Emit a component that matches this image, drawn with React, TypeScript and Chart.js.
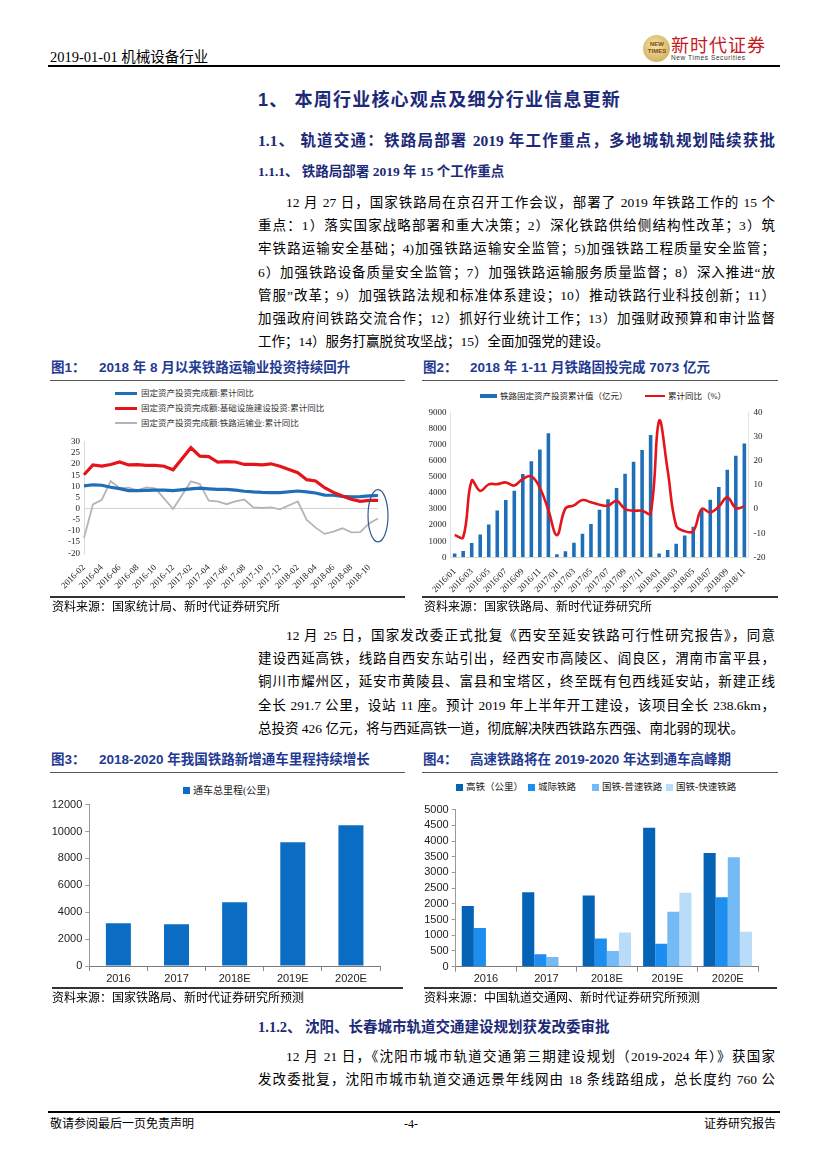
import React, { useEffect, useRef } from "react";
import { Chart, registerables } from "chart.js";
Chart.register(...registerables);

const SERIF = '"Liberation Serif", "Noto Sans CJK SC", serif';
const SANS = '"Liberation Sans", "Noto Sans CJK SC", sans-serif';
const HEAD_BLUE = "#1c2a78";
const FIG_BLUE = "#1f3a93";

// ---------- Figure 1 data ----------
const fig1Months = [
  "2016-02","2016-03","2016-04","2016-05","2016-06","2016-07","2016-08","2016-09","2016-10","2016-11","2016-12",
  "2017-01","2017-02","2017-03","2017-04","2017-05","2017-06","2017-07","2017-08","2017-09","2017-10","2017-11","2017-12",
  "2018-01","2018-02","2018-03","2018-04","2018-05","2018-06","2018-07","2018-08","2018-09","2018-10","2018-11",
];
const fig1Fai = [10.2,10.7,10.5,9.6,9.0,8.1,8.1,8.2,8.3,8.3,8.1, null,8.9,9.2,8.9,8.6,8.6,8.3,7.8,7.5,7.3,7.2,7.2, null,7.9,7.5,7.0,6.1,6.0,5.5,5.3,5.4,5.7,5.9];
const fig1Infra = [15.2,19.6,19.1,19.8,20.9,19.6,19.7,19.4,19.4,19.0,17.4, null,27.3,23.5,23.3,20.9,21.1,20.9,19.8,19.8,19.6,20.1,19.0, null,16.1,13.0,12.4,9.4,7.3,5.7,4.2,3.3,3.7,3.7];
const fig1Rail = [-13.2,1.9,4.0,12.3,9.2,9.4,8.2,9.5,9.1,4.5,-0.2, null,12.2,11.0,3.6,3.3,2.0,3.3,4.1,0.6,0.3,0.6,-0.3, null,3.2,-5.0,-8.5,-11.3,-10.3,-8.8,-10.6,-10.5,-6.6,-4.4];
const fig1Names = ["固定资产投资完成额:累计同比", "固定资产投资完成额:基础设施建设投资:累计同比", "固定资产投资完成额:铁路运输业:累计同比"];
const fig1Highlight = { index: 33, centerValue: -3.2, halfRange: 11.7, halfWidthSteps: 1.12 };

// ---------- Figure 2 data ----------
const fig2Months = [
  "2016/01","2016/02","2016/03","2016/04","2016/05","2016/06","2016/07","2016/08","2016/09","2016/10","2016/11","2016/12",
  "2017/01","2017/02","2017/03","2017/04","2017/05","2017/06","2017/07","2017/08","2017/09","2017/10","2017/11","2017/12",
  "2018/01","2018/02","2018/03","2018/04","2018/05","2018/06","2018/07","2018/08","2018/09","2018/10","2018/11",
];
const fig2Invest = [230,390,890,1410,2030,2900,3560,4140,5170,5960,6690,7700, 190,370,910,1470,2070,2960,3600,4300,5190,5940,6660,7590, 240,460,840,1350,1900,2980,3580,4370,5440,6310,7073];
const fig2Yoy = [-10.8,-11.7,11.7,7.5,10.2,10.3,11.0,9.7,12.5,13.5,8.8,-0.5, -10.8,0.2,1.5,3.7,2.8,1.8,1.4,3.4,0.0,-0.7,-0.7,-1.8, 36.5,16.0,-6.9,-9.2,-9.2,0.0,-1.4,1.0,4.8,0.4,1.0];
const fig2Names = ["铁路固定资产投资累计值（亿元）", "累计同比（%）"];

// ---------- Figure 3 data ----------
const fig3Years = ["2016", "2017", "2018E", "2019E", "2020E"];
const fig3Mileage = [3180, 3100, 4740, 9210, 10460];
const fig3Name = "通车总里程(公里)";

// ---------- Figure 4 data ----------
const fig4Years = ["2016", "2017", "2018E", "2019E", "2020E"];
const fig4HighSpeed = [1930, 2370, 2270, 4420, 3620];
const fig4Intercity = [1230, 400, 900, 730, 2210];
const fig4Normal = [0, 310, 500, 1750, 3480];
const fig4Fast = [0, 0, 1090, 2350, 1110];
const fig4Names = ["高铁（公里）", "城际铁路", "国铁-普速铁路", "国铁-快速铁路"];
const fig4Colors = ["#0563b5", "#1c8eef", "#74bbf5", "#b9dcf9"];

const BLUE = "#1f6fb8";
const RED = "#e5141b";
const GRAY = "#b5b5b5";

const plain = (v: any) => String(v);

function ChartBox({ left, top, width, height, config }: any) {
  const ref = useRef<HTMLCanvasElement | null>(null);
  useEffect(() => {
    if (!ref.current) return;
    const chart = new Chart(ref.current, config);
    return () => chart.destroy();
  }, []);
  return (
    <div style={{ position: "absolute", left, top, width, height }}>
      <canvas ref={ref} />
    </div>
  );
}

const ellipsePlugin = {
  id: "fig1Ellipse",
  afterDatasetsDraw(chart: any) {
    const xs = chart.scales.x, ys = chart.scales.y;
    const cx = xs.getPixelForValue(fig1Highlight.index);
    const step = xs.getPixelForValue(1) - xs.getPixelForValue(0);
    const cy = ys.getPixelForValue(fig1Highlight.centerValue);
    const ry = Math.abs(ys.getPixelForValue(fig1Highlight.centerValue + fig1Highlight.halfRange) - cy);
    const rx = step * fig1Highlight.halfWidthSteps;
    const ctx = chart.ctx;
    ctx.save();
    ctx.beginPath();
    ctx.ellipse(cx, cy, rx, ry, 0, 0, Math.PI * 2);
    ctx.strokeStyle = "#2f5d8c";
    ctx.lineWidth = 1.2;
    ctx.stroke();
    ctx.restore();
  },
};

const tickSerif = { family: SERIF, size: 9 };
const tickSans = { family: SANS, size: 11 };

const fig1Config: any = {
  type: "line",
  data: {
    labels: fig1Months,
    datasets: [
      { label: fig1Names[1], data: fig1Infra, borderColor: RED, borderWidth: 3.2, pointRadius: 0, spanGaps: true, order: 1 },
      { label: fig1Names[0], data: fig1Fai, borderColor: BLUE, borderWidth: 3.2, pointRadius: 0, spanGaps: true, order: 2 },
      { label: fig1Names[2], data: fig1Rail, borderColor: GRAY, borderWidth: 1.8, pointRadius: 0, spanGaps: true, order: 3 },
    ],
  },
  options: {
    animation: false,
    responsive: true,
    maintainAspectRatio: false,
    plugins: { legend: { display: false }, tooltip: { enabled: false } },
    layout: { padding: { top: 11.7, right: 32, left: 0, bottom: 0 } },
    scales: {
      x: {
        grid: { display: false },
        border: { display: false },
        ticks: {
          autoSkip: false, minRotation: 45, maxRotation: 45, padding: 1,
          font: tickSerif, color: "#222",
          callback: (_v: any, i: number) => (i % 2 === 0 ? fig1Months[i] : ""),
        },
        afterFit: (s: any) => { s.height = 46.7; },
      },
      y: {
        min: -20, max: 30,
        ticks: { stepSize: 5, autoSkip: false, font: tickSerif, color: "#222", padding: 4, callback: plain },
        grid: { color: (c: any) => (c.tick && c.tick.value === 0 ? "#d4d4d4" : "rgba(0,0,0,0)"), drawTicks: false },
        border: { color: "#d9d9d9" },
        afterFit: (s: any) => { s.width = 34; },
      },
    },
  },
  plugins: [ellipsePlugin],
};

const fig2Config: any = {
  type: "bar",
  data: {
    labels: fig2Months,
    datasets: [
      { type: "line", label: fig2Names[1], data: fig2Yoy, yAxisID: "y1", borderColor: RED, borderWidth: 2.6, pointRadius: 0, tension: 0.4, order: 1 },
      { type: "bar", label: fig2Names[0], data: fig2Invest, yAxisID: "y", backgroundColor: BLUE, barPercentage: 0.42, categoryPercentage: 1, order: 2 },
    ],
  },
  options: {
    animation: false,
    responsive: true,
    maintainAspectRatio: false,
    plugins: { legend: { display: false }, tooltip: { enabled: false } },
    layout: { padding: { top: 9.7, right: 0, left: 0, bottom: 0 } },
    scales: {
      x: {
        offset: true,
        grid: { display: false },
        border: { color: "#d9d9d9" },
        ticks: {
          autoSkip: false, minRotation: 45, maxRotation: 45, padding: 1,
          font: tickSerif, color: "#222",
          callback: (_v: any, i: number) => (i % 2 === 0 ? fig2Months[i] : ""),
        },
        afterFit: (s: any) => { s.height = 42.7; },
      },
      y: {
        position: "left", min: 0, max: 9000,
        ticks: { stepSize: 1000, autoSkip: false, font: tickSerif, color: "#222", padding: 4, callback: plain },
        grid: { display: false, drawTicks: false },
        border: { color: "#e3e3e3" },
        afterFit: (s: any) => { s.width = 30.4; },
      },
      y1: {
        position: "right", min: -20, max: 40,
        ticks: { stepSize: 10, autoSkip: false, font: tickSerif, color: "#222", padding: 5, callback: plain },
        grid: { display: false, drawTicks: false },
        border: { color: "#e3e3e3" },
        afterFit: (s: any) => { s.width = 31.4; },
      },
    },
  },
};

const fig3Config: any = {
  type: "bar",
  data: {
    labels: fig3Years,
    datasets: [{ label: fig3Name, data: fig3Mileage, backgroundColor: "#0a6cc2", barPercentage: 0.43, categoryPercentage: 1 }],
  },
  options: {
    animation: false,
    responsive: true,
    maintainAspectRatio: false,
    plugins: { legend: { display: false }, tooltip: { enabled: false } },
    layout: { padding: { top: 7.3, right: 30, left: 0, bottom: 0 } },
    scales: {
      x: {
        grid: { display: true, drawOnChartArea: false, drawTicks: true, tickLength: 5, color: "#8a8a8a", offset: true },
        border: { color: "#7a7a7a" },
        ticks: { font: tickSans, color: "#222", padding: 1 },
        afterFit: (s: any) => { s.height = 22; },
      },
      y: {
        min: 0, max: 12000,
        ticks: { stepSize: 2000, autoSkip: false, font: tickSans, color: "#222", padding: 3, callback: plain },
        grid: { display: true, drawOnChartArea: false, drawTicks: true, tickLength: 4, color: "#9a9a9a" },
        border: { color: "#9a9a9a" },
        afterFit: (s: any) => { s.width = 39.3; },
      },
    },
  },
};

const fig4Series = [fig4HighSpeed, fig4Intercity, fig4Normal, fig4Fast];
const fig4Config: any = {
  type: "bar",
  data: {
    labels: fig4Years,
    datasets: fig4Series.map((d, i) => ({
      label: fig4Names[i], data: d, backgroundColor: fig4Colors[i], barPercentage: 1, categoryPercentage: 0.8,
    })),
  },
  options: {
    animation: false,
    responsive: true,
    maintainAspectRatio: false,
    plugins: { legend: { display: false }, tooltip: { enabled: false } },
    layout: { padding: { top: 9.3, right: 22, left: 0, bottom: 0 } },
    scales: {
      x: {
        grid: { display: true, drawOnChartArea: false, drawTicks: true, tickLength: 5, color: "#8a8a8a", offset: true },
        border: { color: "#7a7a7a" },
        ticks: { font: tickSans, color: "#222", padding: 1 },
        afterFit: (s: any) => { s.height = 21.3; },
      },
      y: {
        min: 0, max: 5000,
        ticks: { stepSize: 500, autoSkip: false, font: tickSans, color: "#222", padding: 3, callback: plain },
        grid: { display: true, drawOnChartArea: false, drawTicks: true, tickLength: 4, color: "#9a9a9a" },
        border: { color: "#9a9a9a" },
        afterFit: (s: any) => { s.width = 35.7; },
      },
    },
  },
};

function Txt({ x, cy, size = 13.5, weight = 400, color = "#000", family = SERIF, width, justify, children, spacing }: any) {
  const lh = Math.round(size * 1.5);
  const style: any = {
    position: "absolute", left: x, top: cy - lh / 2, height: lh, lineHeight: lh + "px",
    fontSize: size, fontWeight: weight, color, fontFamily: family, whiteSpace: "nowrap",
  };
  if (spacing) style.letterSpacing = spacing;
  if (width) style.width = width;
  if (justify) {
    style.textAlign = "justify";
    style.textAlignLast = "justify";
    style.whiteSpace = "normal";
    style.overflow = "visible";
  }
  return <div style={style}>{children}</div>;
}

function HLine({ x1, x2, y, w = 1, color = "#000" }: any) {
  return <div style={{ position: "absolute", left: x1, top: y - w / 2, width: x2 - x1, height: w, background: color }} />;
}

const para1 = [
  "12 月 27 日，国家铁路局在京召开工作会议，部署了 2019 年铁路工作的 15 个",
  "重点：1）落实国家战略部署和重大决策；2）深化铁路供给侧结构性改革；3）筑",
  "牢铁路运输安全基础；4)加强铁路运输安全监管；5)加强铁路工程质量安全监管；",
  "6）加强铁路设备质量安全监管；7）加强铁路运输服务质量监督；8）深入推进“放",
  "管服”改革；9）加强铁路法规和标准体系建设；10）推动铁路行业科技创新；11）",
  "加强政府间铁路交流合作；12）抓好行业统计工作；13）加强财政预算和审计监督",
  "工作；14）服务打赢脱贫攻坚战；15）全面加强党的建设。",
];
const para2 = [
  "12 月 25 日，国家发改委正式批复《西安至延安铁路可行性研究报告》，同意",
  "建设西延高铁，线路自西安东站引出，经西安市高陵区、阎良区，渭南市富平县，",
  "铜川市耀州区，延安市黄陵县、富县和宝塔区，终至既有包西线延安站，新建正线",
  "全长 291.7 公里，设站 11 座。预计 2019 年上半年开工建设，该项目全长 238.6km，",
  "总投资 426 亿元，将与西延高铁一道，彻底解决陕西铁路东西强、南北弱的现状。",
];
const para3 = [
  "12 月 21 日，《沈阳市城市轨道交通第三期建设规划（2019-2024 年）》获国家",
  "发改委批复，沈阳市城市轨道交通远景年线网由 18 条线路组成，总长度约 760 公",
];

function Paragraph({ lines, y0, step = 23.2, lastFull = false }: any) {
  return (
    <>
      {lines.map((t: string, i: number) => {
        const first = i === 0;
        const isLast = i === lines.length - 1;
        const justify = !isLast || lastFull;
        return (
          <Txt key={i} x={first ? 286 : 258} cy={y0 + i * step} width={first ? 489 : 517} justify={justify}>
            {t}
          </Txt>
        );
      })}
    </>
  );
}

function LegendLine({ x, cy, color, w, text }: any) {
  return (
    <>
      <div style={{ position: "absolute", left: x, top: cy - w / 2, width: 22, height: w, background: color }} />
      <Txt x={x + 26} cy={cy} size={8.5} color="#333">{text}</Txt>
    </>
  );
}

function LegendBox({ x, cy, color, text, size = 9.5, bw = 7, bh = 7 }: any) {
  return (
    <>
      <div style={{ position: "absolute", left: x, top: cy - bh / 2, width: bw, height: bh, background: color }} />
      <Txt x={x + bw + 3} cy={cy} size={size} color="#222">{text}</Txt>
    </>
  );
}

export default function App() {
  return (
    <div style={{ position: "absolute", left: 0, top: 0, width: 827, height: 1169, background: "#fff", overflow: "hidden" }}>
      {/* Header */}
      <Txt x={50} cy={57} size={14.5}>2019-01-01 机械设备行业</Txt>
      <div style={{
        position: "absolute", left: 643, top: 35, width: 27, height: 27, borderRadius: "50%",
        background: "radial-gradient(circle at 45% 40%, #f3e3a8, #c9a24c)",
      }} />
      <div style={{ position: "absolute", left: 642, top: 41, width: 30, textAlign: "center", fontFamily: SANS, fontSize: 6, lineHeight: "7px", color: "#7a4a10", fontWeight: 700 }}>NEW<br />TIMES</div>
      <Txt x={671} cy={44} size={18} color="#c8161d" family='"Noto Sans CJK SC", sans-serif' spacing="1px">新时代证券</Txt>
      <Txt x={671} cy={58} size={6.5} color="#333" family={SANS} spacing="0.6px">New Times Securities</Txt>
      <HLine x1={48} x2={780} y={66} w={1.6} />

      {/* Headings */}
      <Txt x={258} cy={100} size={18} weight={700} color={HEAD_BLUE} family={SANS} spacing="1.2px">1、 本周行业核心观点及细分行业信息更新</Txt>
      <Txt x={258} cy={140} size={15.5} weight={700} color={HEAD_BLUE} family={SERIF} width={517} justify>1.1、 轨道交通：铁路局部署 2019 年工作重点，多地城轨规划陆续获批</Txt>
      <Txt x={258} cy={172} size={13.5} weight={700} color={HEAD_BLUE} family={SERIF}>1.1.1、 铁路局部署 2019 年 15 个工作重点</Txt>

      <Paragraph lines={para1} y0={203} />

      {/* Figure 1 & 2 titles */}
      <Txt x={51} cy={368} size={13.5} weight={700} color={FIG_BLUE} family={SANS}>图1：</Txt>
      <Txt x={99} cy={368} size={13.5} weight={700} color={FIG_BLUE} family={SANS}>2018 年 8 月以来铁路运输业投资持续回升</Txt>
      <Txt x={423} cy={368} size={13.5} weight={700} color={FIG_BLUE} family={SANS}>图2：</Txt>
      <Txt x={470} cy={368} size={13.5} weight={700} color={FIG_BLUE} family={SANS}>2018 年 1-11 月铁路固投完成 7073 亿元</Txt>
      <HLine x1={50} x2={405} y={380} w={1} color="#555" />
      <HLine x1={422} x2={778} y={380} w={1} color="#555" />

      {/* Figure 1 legend */}
      <LegendLine x={115} cy={393} color={BLUE} w={3} text={fig1Names[0]} />
      <LegendLine x={115} cy={408} color={RED} w={3} text={fig1Names[1]} />
      <LegendLine x={115} cy={423} color={GRAY} w={1.8} text={fig1Names[2]} />
      <ChartBox left={50} top={430} width={360} height={170} config={fig1Config} />

      {/* Figure 2 legend */}
      <LegendBox x={480} cy={396} color={BLUE} text={fig2Names[0]} bw={17} bh={4.5} size={8.5} />
      <div style={{ position: "absolute", left: 645, top: 394.8, width: 20, height: 2.6, background: RED }} />
      <Txt x={668} cy={396} size={8.5} color="#222">{fig2Names[1]}</Txt>
      <ChartBox left={420} top={402} width={360} height={198} config={fig2Config} />

      <HLine x1={50} x2={405} y={597} w={1.5} color="#333" />
      <HLine x1={422} x2={778} y={597} w={1.5} color="#333" />
      <Txt x={52} cy={607} size={12}>资料来源：国家统计局、新时代证券研究所</Txt>
      <Txt x={424} cy={607} size={12}>资料来源：国家铁路局、新时代证券研究所</Txt>

      <Paragraph lines={para2} y0={636} />

      {/* Figure 3 & 4 titles */}
      <Txt x={51} cy={760} size={13.5} weight={700} color={FIG_BLUE} family={SANS}>图3：</Txt>
      <Txt x={99} cy={760} size={13.5} weight={700} color={FIG_BLUE} family={SANS}>2018-2020 年我国铁路新增通车里程持续增长</Txt>
      <Txt x={423} cy={760} size={13.5} weight={700} color={FIG_BLUE} family={SANS}>图4：</Txt>
      <Txt x={470} cy={760} size={13.5} weight={700} color={FIG_BLUE} family={SANS}>高速铁路将在 2019-2020 年达到通车高峰期</Txt>
      <HLine x1={50} x2={405} y={772} w={1} color="#555" />
      <HLine x1={422} x2={778} y={772} w={1} color="#555" />

      <LegendBox x={183} cy={790} color="#0a6cc2" text={fig3Name} size={10} />
      <ChartBox left={50} top={795} width={360} height={193} config={fig3Config} />

      {fig4Names.map((n, i) => (
        <LegendBox key={n} x={[456, 528, 592, 666][i]} cy={787} color={fig4Colors[i]} text={n} size={9.5} />
      ))}
      <ChartBox left={420} top={800} width={360} height={188} config={fig4Config} />

      <HLine x1={52} x2={403} y={988} w={1.5} color="#333" />
      <HLine x1={424} x2={777} y={988} w={1.5} color="#333" />
      <Txt x={52} cy={998} size={12}>资料来源：国家铁路局、新时代证券研究所预测</Txt>
      <Txt x={424} cy={998} size={12}>资料来源：中国轨道交通网、新时代证券研究所预测</Txt>

      <Txt x={258} cy={1027} size={14.5} weight={700} color={HEAD_BLUE} family={SERIF}>1.1.2、 沈阳、长春城市轨道交通建设规划获发改委审批</Txt>
      <Paragraph lines={para3} y0={1057} lastFull />

      {/* Footer */}
      <HLine x1={48} x2={780} y={1112} w={1.8} />
      <Txt x={50} cy={1124} size={12}>敬请参阅最后一页免责声明</Txt>
      <Txt x={404} cy={1124} size={12}>-4-</Txt>
      <Txt x={704} cy={1124} size={12}>证券研究报告</Txt>
    </div>
  );
}
